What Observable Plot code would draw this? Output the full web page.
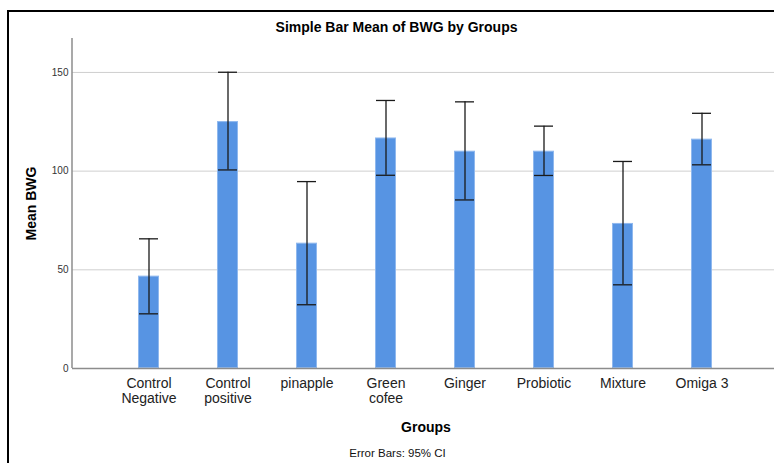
<!DOCTYPE html>
<html>
<head>
<meta charset="utf-8">
<script src="https://cdn.jsdelivr.net/npm/d3@7"></script>
<script src="https://cdn.jsdelivr.net/npm/@observablehq/plot@0.6"></script>
<style>
  html, body { margin: 0; padding: 0; background: #fff; }
  #wrap { position: relative; width: 774px; height: 463px; overflow: hidden; font-family: "Liberation Sans", Arial, sans-serif; }
  #border { position: absolute; left: 7px; top: 10px; width: 800px; height: 500px; border-left: 2px solid #000; border-top: 2px solid #000; pointer-events: none; }
</style>
</head>
<body>
<div id="wrap"><div id="border"></div></div>
<script>
// Mean body-weight gain (BWG) per treatment group with 95% confidence intervals
const groups = ["Control\nNegative", "Control\npositive", "pinapple", "Green\ncofee", "Ginger", "Probiotic", "Mixture", "Omiga 3"];
const means  = [46.8, 125.1, 63.5, 116.8, 110.1, 110.1, 73.5, 116.2];
const ciLow  = [27.7, 100.6, 32.3,  97.9,  85.4,  97.8, 42.4, 103.2];
const ciHigh = [65.7, 150.1, 94.7, 135.8, 135.1, 122.8, 104.9, 129.3];
const yTicks = [0, 50, 100, 150];

const rows = groups.map((g, i) => ({group: g, mean: means[i], lo: ciLow[i], hi: ciHigh[i]}));

const W = 774, H = 463;
const mL = 72, mR = 0, mT = 38, mB = 95;
const font = "Liberation Sans, Arial, sans-serif";

const chart = Plot.plot({
  width: W,
  height: H,
  marginLeft: mL,
  marginRight: mR,
  marginTop: mT,
  marginBottom: mB,
  style: {fontFamily: font, background: "transparent", overflow: "visible"},
  x: {domain: groups, range: [108, 742], paddingInner: 0.728, paddingOuter: 0.364, label: null},
  y: {domain: [0, 167.2], label: null},
  marks: [
    Plot.ruleY(yTicks.filter(d => d > 0), {stroke: "#cfcfcf", strokeWidth: 1}),
    Plot.barY(rows, {x: "group", y: "mean", fill: "#5794e3", stroke: "#8fb8ee", strokeWidth: 1, inset: 0.5}),
    Plot.ruleY([0], {stroke: "#8c8c8c", strokeWidth: 1.5}),
    Plot.ruleX(rows, {x: "group", y1: "lo", y2: "hi", stroke: "#1a1a1a", strokeWidth: 1.3}),
    Plot.tickY(rows, {x: "group", y: "lo", stroke: "#1a1a1a", strokeWidth: 1.3, insetLeft: 1, insetRight: 1}),
    Plot.tickY(rows, {x: "group", y: "hi", stroke: "#1a1a1a", strokeWidth: 1.3, insetLeft: 1, insetRight: 1}),
    Plot.axisY({ticks: yTicks, tickSize: 0, tickPadding: 4, fontSize: 10, fill: "#333", label: null}),
    Plot.axisX({tickSize: 0, tickPadding: 9, fontSize: 14, lineHeight: 1.05, fill: "#222", label: null}),
    // titles and notes
    Plot.text(["Simple Bar Mean of BWG by Groups"], {frameAnchor: "top-left", dx: 396 - mL, dy: 27 - mT, fontSize: 14, fontWeight: "bold", fill: "#000", textAnchor: "middle", lineAnchor: "middle"}),
    Plot.text(["Mean BWG"], {frameAnchor: "left", dx: 31 - mL, rotate: -90, fontSize: 14, fontWeight: "bold", fill: "#000", textAnchor: "middle", lineAnchor: "middle"}),
    Plot.text(["Groups"], {frameAnchor: "bottom-left", dx: 425.5 - mL, dy: 427 - (H - mB), fontSize: 14, fontWeight: "bold", fill: "#000", textAnchor: "middle", lineAnchor: "middle"}),
    Plot.text(["Error Bars: 95% CI"], {frameAnchor: "bottom-left", dx: 397 - mL, dy: 453 - (H - mB), fontSize: 11.5, fill: "#111", textAnchor: "middle", lineAnchor: "middle"})
  ]
});

// vertical axis line along the left edge of the plotting frame
const yScale = chart.scale("y");
d3.select(chart).append("line")
  .attr("x1", mL).attr("x2", mL)
  .attr("y1", yScale.apply(yScale.domain[1]))
  .attr("y2", yScale.apply(0))
  .attr("stroke", "#8c8c8c")
  .attr("stroke-width", 1.5);

chart.style.position = "absolute";
chart.style.left = "0px";
chart.style.top = "0px";
document.getElementById("wrap").prepend(chart);
</script>
</body>
</html>
